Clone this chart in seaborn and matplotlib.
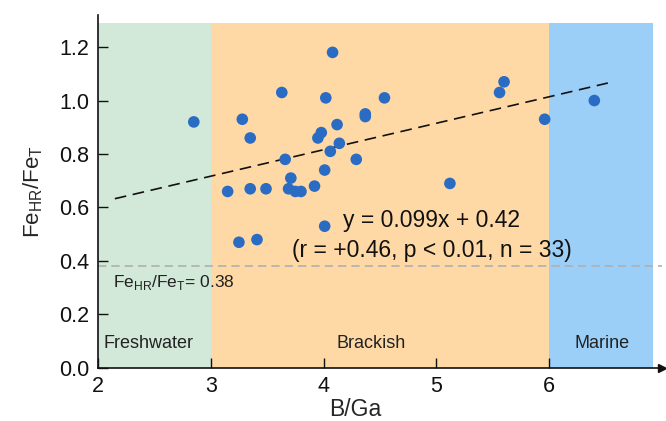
import matplotlib
matplotlib.use("Agg")
import matplotlib.pyplot as plt
import seaborn as sns
import numpy as np
import pandas as pd

# B/Ga vs FeHR/FeT
b_ga = [2.85, 3.28, 3.35, 3.63, 4.08, 4.02, 4.54, 4.37, 4.37, 4.12, 3.98,
        3.95, 4.14, 4.06, 3.66, 4.29, 4.01, 3.71, 3.15, 3.35, 3.49, 3.69,
        3.75, 3.80, 3.92, 4.01, 3.25, 3.41, 5.12, 5.60, 5.56, 5.96, 6.40]
fe_ratio = [0.92, 0.93, 0.86, 1.03, 1.18, 1.01, 1.01, 0.95, 0.94, 0.91, 0.88,
            0.86, 0.84, 0.81, 0.78, 0.78, 0.74, 0.71, 0.66, 0.67, 0.67, 0.67,
            0.66, 0.66, 0.68, 0.53, 0.47, 0.48, 0.69, 1.07, 1.03, 0.93, 1.00]

slope, intercept = 0.099, 0.42
fit_range = [2.15, 6.52]
threshold = 0.38

zones = ["Freshwater", "Brackish", "Marine"]
zone_edges = [(2, 3), (3, 6), (6, 6.92)]
zone_colors = ["#d2e8d8", "#ffd9a5", "#9ccff7"]
zone_label_x = [2.05, 4.42, 6.47]

df = pd.DataFrame({"B/Ga": b_ga, "FeHR/FeT": fe_ratio})

sns.set_style("ticks")
plt.rcParams["font.family"] = ["Liberation Sans", "DejaVu Sans"]

fig = plt.figure(figsize=(6.66, 4.21), dpi=100)
ax = fig.add_axes([0.147, 0.126, 0.847, 0.8385])

# salinity zones
for (x0, x1), c in zip(zone_edges, zone_colors):
    ax.axvspan(x0, x1, ymin=0, ymax=1.29 / 1.32, color=c, lw=0, zorder=0)
for name, xl in zip(zones, zone_label_x):
    ha = "left" if name == "Freshwater" else "center"
    ax.text(xl, 0.09, name, fontsize=13, ha=ha, va="center", color="#222222")

# threshold line
ax.axhline(threshold, color="#b0b0b0", lw=1.2, ls=(0, (5, 3)), zorder=1)
ax.text(2.13, 0.32, "Fe$_\\mathregular{HR}$/Fe$_\\mathregular{T}$= 0.38",
        fontsize=12.5, ha="left", va="center", color="#222222")

# regression line
xs = np.array(fit_range)
ax.plot(xs, slope * xs + intercept, color="#111111", lw=1.2,
        ls=(0, (7, 4)), zorder=2)

sns.scatterplot(data=df, x="B/Ga", y="FeHR/FeT", ax=ax, color="#2a6cc4",
                s=70, edgecolor="none", zorder=3)

ax.text(4.96, 0.55, "y = 0.099x + 0.42", fontsize=16.5, ha="center",
        va="center", color="#111111")
ax.text(4.96, 0.44, "(r = +0.46, p < 0.01, n = 33)", fontsize=16.5,
        ha="center", va="center", color="#111111")

ax.set_xlim(2, 7)
ax.set_ylim(0, 1.32)
ax.set_xticks([2, 3, 4, 5, 6])
ax.set_yticks([0.0, 0.2, 0.4, 0.6, 0.8, 1.0, 1.2])
ax.set_yticklabels([f"{v:.1f}" for v in ax.get_yticks()])
ax.tick_params(direction="in", length=7, width=1, labelsize=15.5, pad=6,
               colors="#111111")
ax.set_xlabel("B/Ga", fontsize=16.5, labelpad=2)
ax.xaxis.set_label_coords(0.456, -0.085)
ax.set_ylabel("Fe$_\\mathregular{HR}$/Fe$_\\mathregular{T}$", fontsize=16,
              labelpad=10)

for side in ["top", "right"]:
    ax.spines[side].set_visible(False)
for side in ["left", "bottom"]:
    ax.spines[side].set_color("#111111")
    ax.spines[side].set_linewidth(1.2)

# axis arrows
ax.plot(1, 0, ">", color="#111111", ms=6, transform=ax.get_yaxis_transform(),
        clip_on=False)
ax.plot(0, 1, "^", color="#111111", ms=6, transform=ax.get_xaxis_transform(),
        clip_on=False)

fig.savefig("out.png", dpi=100)
